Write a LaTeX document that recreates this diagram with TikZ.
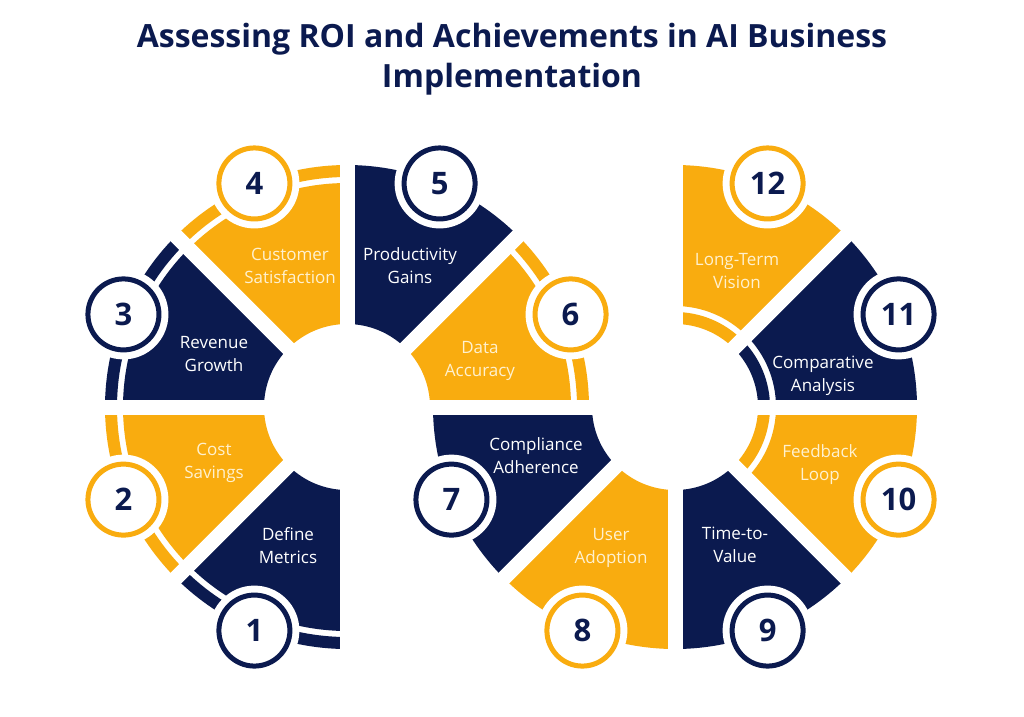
\documentclass[tikz,border=0pt]{standalone}
\usepackage{fontspec}
\setmainfont{Open Sans}
\usetikzlibrary{calc}
\definecolor{navy}{HTML}{0B1A4F}
\definecolor{gold}{HTML}{F9AC0F}
\definecolor{cream}{HTML}{FFF1CF}
\definecolor{glowc}{HTML}{DCE2F2}
\pgfdeclareradialshading{numglow}{\pgfpoint{0bp}{0bp}}{color(0bp)=(white); color(30bp)=(white); color(50bp)=(glowc)}
\newcommand\sectorpath[5]{($(#1)+(#2:#4)$) arc[start angle=#2, end angle=#3, radius=#4] -- ($(#1)+(#3:#5)$) arc[start angle=#3, end angle=#2, radius=#5] -- cycle}
\tikzset{
  numcirc/.style={circle, minimum size=71pt, inner sep=0pt, line width=5pt, shading=numglow, text=navy, font=\fontsize{31}{31}\selectfont\bfseries},
  lbl/.style={anchor=base, align=center, inner sep=0pt, font=\fontsize{17}{23}\selectfont},
  titletxt/.style={anchor=base, inner sep=0pt, text=navy, font=\fontsize{32}{40}\selectfont\bfseries},
  gapline/.style={white, line width=15pt},
}
\begin{document}
\begin{tikzpicture}[x=1pt,y=1pt]
\fill[white] (0,0) rectangle (1024,-716);
\useasboundingbox (0,0) rectangle (1024,-716);
\coordinate (C1) at (347,-407);
\coordinate (C2) at (675,-407);
% wedges
\fill[navy] \sectorpath{C1}{225}{270}{83pt}{224pt};
\fill[gold] \sectorpath{C1}{180}{225}{83pt}{224pt};
\fill[navy] \sectorpath{C1}{135}{180}{83pt}{224pt};
\fill[gold] \sectorpath{C1}{90}{135}{83pt}{224pt};
\fill[navy] \sectorpath{C1}{45}{90}{83pt}{242pt};
\fill[gold] \sectorpath{C1}{0}{45}{83pt}{224pt};
\fill[navy] \sectorpath{C2}{180}{225}{83pt}{242pt};
\fill[gold] \sectorpath{C2}{225}{270}{83pt}{242pt};
\fill[navy] \sectorpath{C2}{270}{315}{83pt}{242pt};
\fill[gold] \sectorpath{C2}{315}{360}{101pt}{242pt};
\fill[navy] \sectorpath{C2}{0}{45}{101pt}{242pt};
\fill[gold] \sectorpath{C2}{45}{90}{101pt}{242pt};
% bands
\fill[navy] \sectorpath{C1}{225}{270}{230pt}{242pt};
\fill[gold] \sectorpath{C1}{180}{225}{230pt}{242pt};
\fill[navy] \sectorpath{C1}{135}{180}{230pt}{242pt};
\fill[gold] \sectorpath{C1}{90}{135}{230pt}{242pt};
\fill[gold] \sectorpath{C1}{0}{45}{230pt}{242pt};
\fill[gold] \sectorpath{C2}{315}{360}{83pt}{95pt};
\fill[navy] \sectorpath{C2}{0}{45}{83pt}{95pt};
\fill[gold] \sectorpath{C2}{45}{90}{83pt}{95pt};
% gaps
\foreach \a in {0,45,...,270} \draw[gapline] (C1) -- ++(\a:262pt);
\foreach \a in {180,225,...,450} \draw[gapline] (C2) -- ++(\a:262pt);
% positions
\coordinate (p1) at ($(C1)+(247.5:242pt)$);
\coordinate (p2) at ($(C1)+(202.5:242pt)$);
\coordinate (p3) at ($(C1)+(157.5:242pt)$);
\coordinate (p4) at ($(C1)+(112.5:242pt)$);
\coordinate (p5) at ($(C1)+(67.5:242pt)$);
\coordinate (p6) at ($(C1)+(22.5:242pt)$);
\coordinate (p7) at ($(C2)+(202.5:242pt)$);
\coordinate (p8) at ($(C2)+(247.5:242pt)$);
\coordinate (p9) at ($(C2)+(292.5:242pt)$);
\coordinate (p10) at ($(C2)+(337.5:242pt)$);
\coordinate (p11) at ($(C2)+(22.5:242pt)$);
\coordinate (p12) at ($(C2)+(67.5:242pt)$);
\foreach \i in {1,...,12} \fill[white] (p\i) circle[radius=45pt];
% number circles
\node[numcirc, draw=navy] (n1) at (p1) {1};
\node[numcirc, draw=gold] (n2) at (p2) {2};
\node[numcirc, draw=navy] (n3) at (p3) {3};
\node[numcirc, draw=gold] (n4) at (p4) {4};
\node[numcirc, draw=navy] (n5) at (p5) {5};
\node[numcirc, draw=gold] (n6) at (p6) {6};
\node[numcirc, draw=navy] (n7) at (p7) {7};
\node[numcirc, draw=gold] (n8) at (p8) {8};
\node[numcirc, draw=navy] (n9) at (p9) {9};
\node[numcirc, draw=gold] (n10) at (p10) {10};
\node[numcirc, draw=navy] (n11) at (p11) {11};
\node[numcirc, draw=gold] (n12) at (p12) {12};
% labels (base = baseline of the last line)
\node[lbl, text=white] (l1) at (288,-563) {Define\\Metrics};
\node[lbl, text=cream] (l2) at (214,-478) {Cost\\Savings};
\node[lbl, text=white] (l3) at (214,-371) {Revenue\\Growth};
\node[lbl, text=cream] (l4) at (290,-283) {Customer\\Satisfaction};
\node[lbl, text=white] (l5) at (410,-283) {Productivity\\Gains};
\node[lbl, text=cream] (l6) at (480,-376) {Data\\Accuracy};
\node[lbl, text=white] (l7) at (536,-473) {Compliance\\Adherence};
\node[lbl, text=cream] (l8) at (611,-563) {User\\Adoption};
\node[lbl, text=white] (l9) at (735,-562) {Time-to-\\Value};
\node[lbl, text=cream] (l10) at (820,-480) {Feedback\\Loop};
\node[lbl, text=white] (l11) at (823,-391) {Comparative\\Analysis};
\node[lbl, text=cream] (l12) at (737,-288) {Long-Term\\Vision};
% title
\node[titletxt] (t1) at (512,-47) {Assessing ROI and Achievements in AI Business};
\node[titletxt] (t2) at (512,-87) {Implementation};
\end{tikzpicture}
\end{document}
